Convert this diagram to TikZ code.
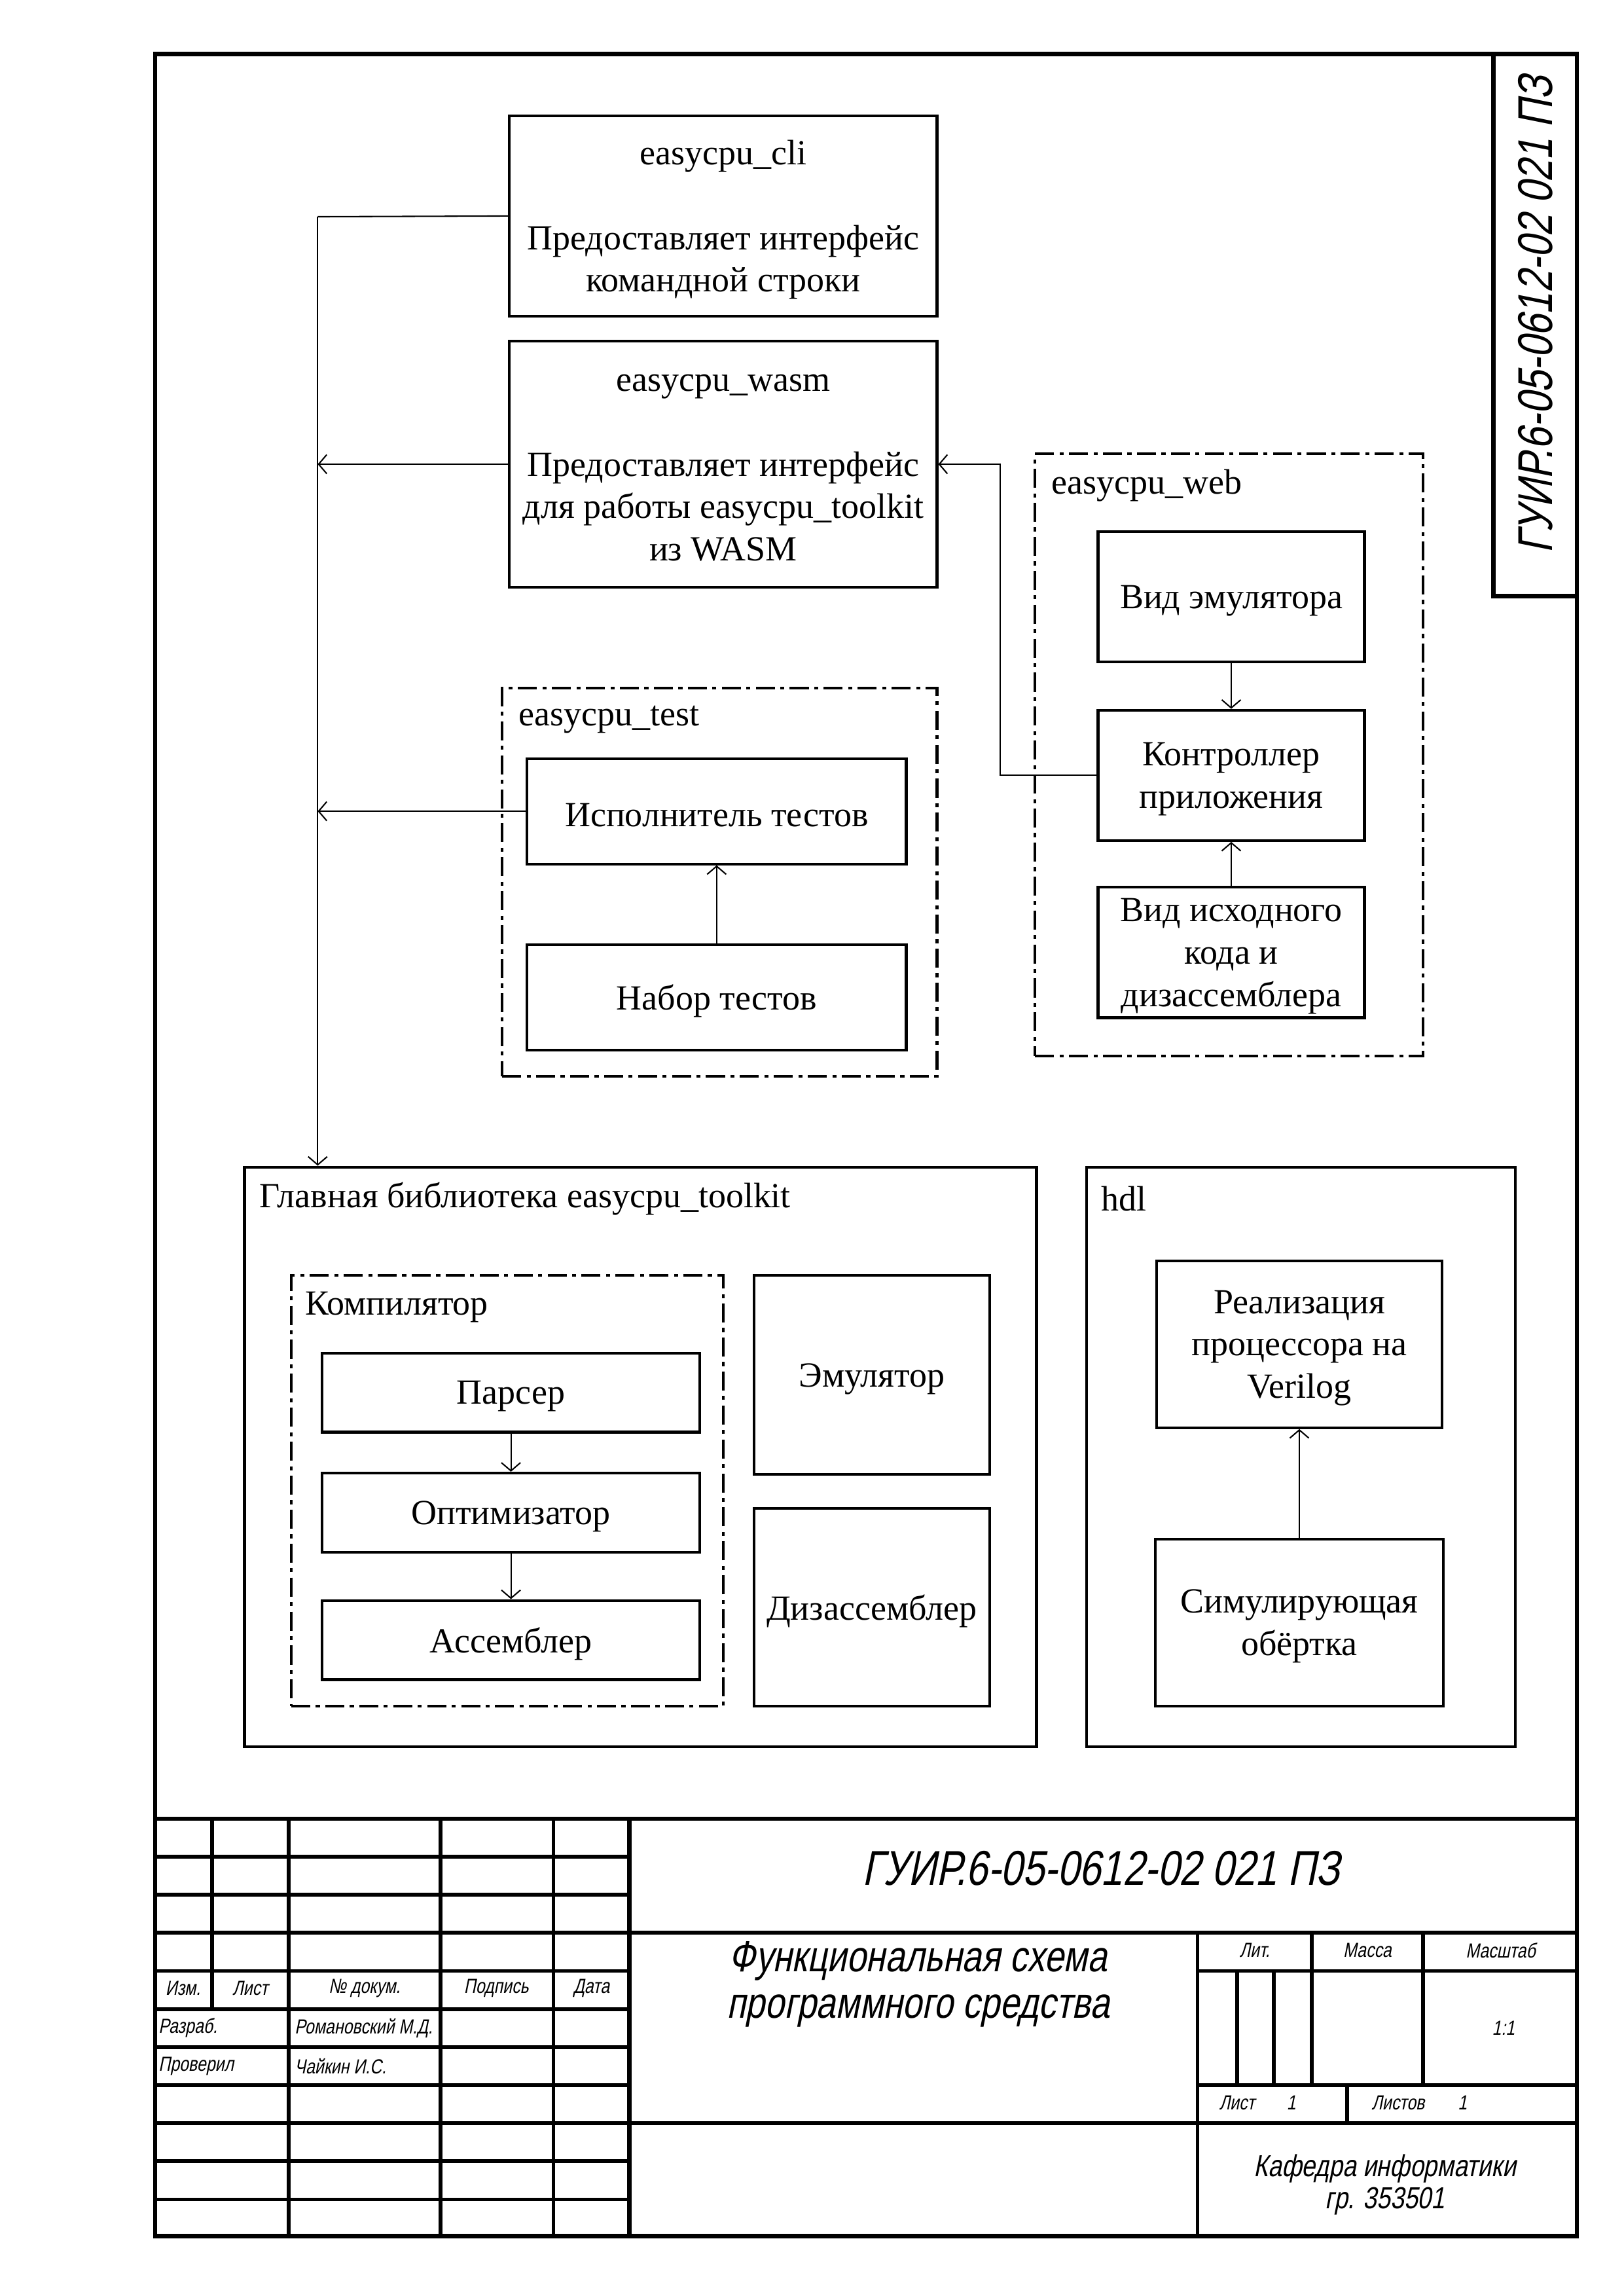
\documentclass[tikz,border=0pt]{standalone}
\usepackage{fontspec}
\setmainfont{Liberation Serif}
\newfontfamily\gost{Liberation Sans}[FakeStretch=0.8,FakeSlant=0.2]
\usetikzlibrary{arrows.meta}
% box with centred text: [style]{name}{x1}{y1}{x2}{y2}{text}
\newcommand\bx[7][blk]{%
  \node[#1,minimum width={(#5-#3)*0.5388pt},minimum height={(#6-#4)*0.5388pt}] (#2) at ({(#3+#5)/2},{(#4+#6)/2}) {};
  \node[txt] (#2t) at ([yshift=-1.4pt]#2.center) {#7};}
% empty frame box: [style]{name}{x1}{y1}{x2}{y2}
\newcommand\fbx[6][blk]{%
  \node[#1,minimum width={(#5-#3)*0.5388pt},minimum height={(#6-#4)*0.5388pt}] (#2) at ({(#3+#5)/2},{(#4+#6)/2}) {};}
\begin{document}
\begin{tikzpicture}[x=0.5388pt,y=-0.5388pt,
  blk/.style={draw,line width=1pt,inner sep=0pt},
  txt/.style={inner sep=0pt,align=center,font=\fontsize{13}{15.6}\selectfont},
  grp/.style={draw,line width=1pt,inner sep=0pt,dash pattern=on 7pt off 2pt on 1.5pt off 2pt},
  conn/.style={line width=0.5pt},
  arr/.style={conn,-{Straight Barb[length=3pt,width=7pt]}},
  frm/.style={line width=1.6pt},
  tb/.style={line width=1.4pt},
  lbl/.style={anchor=west,inner sep=0pt,font=\fontsize{13}{15.6}\selectfont},
  gs/.style={inner sep=0pt,font=\gost\fontsize{7.5}{8}\selectfont},
  gm/.style={inner sep=0pt,align=center,font=\gost\fontsize{11.2}{11.9}\selectfont},
  gb/.style={inner sep=0pt,align=center,font=\gost\fontsize{18}{20}\selectfont},
  gn/.style={inner sep=0pt,align=center,font=\gost\fontsize{16}{16}\selectfont}]
\useasboundingbox[fill=white] (0,0) rectangle (1109,1568);

% ---------- frame ----------
\draw[frm] (106,37) rectangle (1077,1527);
\draw[frm] (1020,37) -- (1020,407) -- (1077,407);
\node[gb,rotate=90] (stamp) at (1049,215) {ГУИР.6-05-0612-02 021 ПЗ};

% ---------- top blocks ----------
\bx{cli}{348}{79}{640}{216}{easycpu\_cli\\[15.6pt]Предоставляет интерфейс\\командной строки}
\bx{wasm}{348}{233}{640}{401}{easycpu\_wasm\\[15.6pt]Предоставляет интерфейс\\для работы easycpu\_toolkit\\из WASM}

% ---------- easycpu_test ----------
\fbx[grp]{test}{343}{470}{640}{735}
\node[lbl] (testlbl) at (354,491.5) {easycpu\_test};
\bx{run}{360}{518}{619}{590}{Исполнитель тестов}
\bx{suite}{360}{645}{619}{717}{Набор тестов}

% ---------- easycpu_web ----------
\fbx[grp]{web}{707}{310}{972}{721}
\node[lbl] (weblbl) at (718,331.5) {easycpu\_web};
\bx{ve}{750}{363}{932}{452}{Вид эмулятора}
\bx{ctl}{750}{485}{932}{574}{Контроллер\\приложения}
\bx{vsrc}{750}{606}{932}{695}{Вид исходного\\кода и\\дизассемблера}

% ---------- toolkit ----------
\fbx{tk}{167}{797}{708}{1193}
\node[lbl] (tklbl) at (177,818.5) {Главная библиотека easycpu\_toolkit};
\fbx[grp]{comp}{199}{871}{494}{1165}
\node[lbl] (complbl) at (208,892.5) {Компилятор};
\bx{pars}{220}{924}{478}{978}{Парсер}
\bx{opt}{220}{1006}{478}{1060}{Оптимизатор}
\bx{asm}{220}{1093}{478}{1147}{Ассемблер}
\bx{emu}{515}{871}{676}{1007}{Эмулятор}
\bx{dis}{515}{1030}{676}{1165}{Дизассемблер}

% ---------- hdl ----------
\fbx{hdl}{742}{797}{1035}{1193}
\node[lbl] (hdllbl) at (752,818.5) {hdl};
\bx{impl}{790}{861}{985}{975}{Реализация\\процессора на\\Verilog}
\bx{sim}{789}{1051}{986}{1165}{Симулирующая\\обёртка}

% ---------- connectors ----------
\coordinate (bus) at (217,148);
\coordinate (elbow) at (683,317);
\draw[conn] (cli.west) -- (bus);
\draw[arr] (bus) -- (bus |- tk.north);
\draw[arr] (wasm.west) -- (wasm.west -| bus);
\draw[arr] (run.west) -- (run.west -| bus);
\draw[arr] (ctl.west) -- (ctl.west -| elbow) |- (wasm.east);
\draw[arr] (ve.south) -- (ctl.north);
\draw[arr] (vsrc.north) -- (ctl.south);
\draw[arr] (suite.north) -- (run.south);
\draw[arr] (pars.south) -- (opt.north);
\draw[arr] (opt.south) -- (asm.north);
\draw[arr] (sim.north) -- (impl.south);

% ---------- title block ----------
\draw[frm] (106,1242) -- (1077,1242);
\foreach \yy in {1268,1294,1320,1346,1372,1398,1424,1450,1476,1502}
  \draw[tb] (106,\yy) -- (430,\yy);
\draw[tb] (145,1242) -- (145,1372);
\foreach \xx in {197,301,378}
  \draw[tb] (\xx,1242) -- (\xx,1527);
\draw[frm] (430,1242) -- (430,1527);
\draw[tb] (430,1320) -- (1077,1320);
\draw[tb] (430,1450) -- (1077,1450);
\draw[tb] (818,1320) -- (818,1527);
\draw[tb] (818,1346) -- (1077,1346);
\draw[tb] (818,1424) -- (1077,1424);
\draw[tb] (896,1320) -- (896,1424);
\draw[tb] (972,1320) -- (972,1424);
\draw[tb] (845,1346) -- (845,1424);
\draw[tb] (870,1346) -- (870,1424);
\draw[tb] (920,1424) -- (920,1450);

\node[gb] (code) at (752,1276) {ГУИР.6-05-0612-02 021 ПЗ};
\node[gn] (title) at (627,1355) {Функциональная схема\\[1pt]программного средства};
\node[gs] (hizm) at (125,1358) {Изм.};
\node[gs] (hlist) at (171,1358) {Лист};
\node[gs] (hdoc) at (249,1358) {№ докум.};
\node[gs] (hsign) at (339,1358) {Подпись};
\node[gs] (hdate) at (404,1358) {Дата};
\node[gs,anchor=west] (razr) at (108,1385) {Разраб.};
\node[gs,anchor=west] (razrn) at (201,1385) {Романовский М.Д.};
\node[gs,anchor=west] (prov) at (108,1411) {Проверил};
\node[gs,anchor=west] (provn) at (201,1411) {Чайкин И.С.};
\node[gs] (lit) at (857,1332) {Лит.};
\node[gs] (mass) at (934,1332) {Масса};
\node[gs] (scale) at (1025,1332) {Масштаб};
\node[gs] (scv) at (1027,1385) {1:1};
\node[gs] (sheet) at (845,1436) {Лист};
\node[gs] (sheetv) at (882,1436) {1};
\node[gs] (sheets) at (955,1436) {Листов};
\node[gs] (sheetsv) at (999,1436) {1};
\node[gm] (dept) at (946,1492) {Кафедра информатики\\гр. 353501};
\end{tikzpicture}
\end{document}
